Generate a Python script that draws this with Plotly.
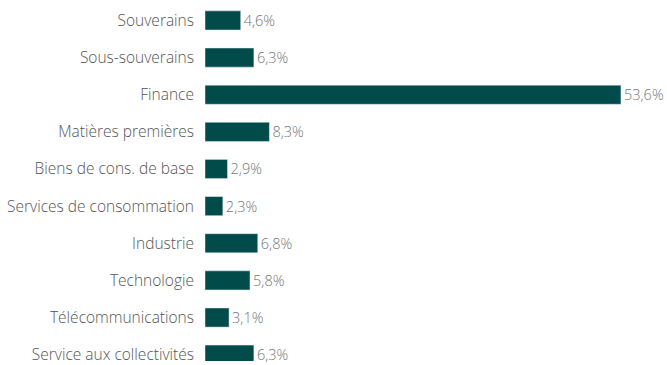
import plotly.graph_objects as go

categories = ["Souverains", "Sous-souverains", "Finance", "Matières premières",
              "Biens de cons. de base", "Services de consommation", "Industrie",
              "Technologie", "Télécommunications", "Service aux collectivités"]
values = [4.6, 6.3, 53.6, 8.3, 2.9, 2.3, 6.8, 5.8, 3.1, 6.3]

fig = go.Figure(go.Bar(
    x=values, y=categories, orientation="h",
    marker=dict(color="#014b4b"),
    texttemplate="%{x:.1f}%", textposition="outside", cliponaxis=False,
    textfont=dict(family="Open Sans", size=14.5, color="#767676", weight=300),
))
fig.update_layout(
    width=667, height=365,
    margin=dict(l=205, r=0, t=0, b=0),
    paper_bgcolor="white", plot_bgcolor="white",
    separators=",.",
    bargap=0.485,
    showlegend=False,
    font=dict(family="Open Sans", weight=300),
)
fig.update_xaxes(range=[0, 462 / 7.76], visible=False, fixedrange=True)
fig.update_yaxes(categoryorder="array", categoryarray=categories,
                 range=[9.17, -0.55], showgrid=False, zeroline=False,
                 showline=False, ticks="", ticklabelstandoff=10,
                 tickfont=dict(family="Open Sans", size=15.5, color="#555555", weight=300))
fig.write_html("out.html")
